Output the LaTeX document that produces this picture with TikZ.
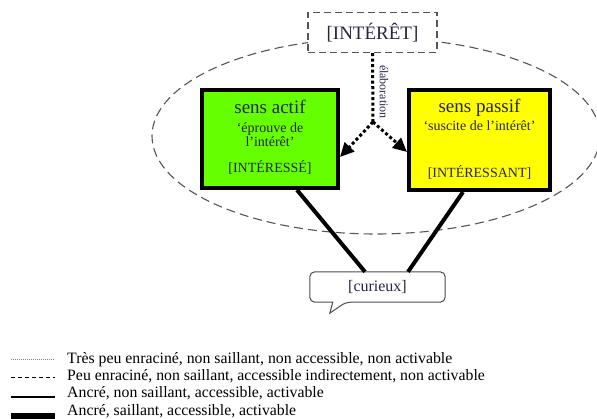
\documentclass[tikz,border=0pt]{standalone}
\usepackage{fontspec}
\setmainfont{Liberation Serif}
\usetikzlibrary{arrows.meta,calc}
\definecolor{vert}{RGB}{102,255,0}
\definecolor{jaune}{RGB}{255,255,0}
\definecolor{txt}{RGB}{38,38,70}
\definecolor{ellc}{RGB}{85,85,85}
\newcommand{\fsz}[1]{\fontsize{#1}{#1}\selectfont}
\begin{document}
\begin{tikzpicture}[x=1pt,y=-1pt,
  sensbox/.style={draw=black, line width=4pt, inner sep=0pt},
  lbl/.style={anchor=base, inner sep=0pt, text=txt},
  dotline/.style={line width=3pt, dash pattern=on 3pt off 2.5pt},
  dotarrow/.style={dotline, -{Triangle[length=14pt,width=13pt]}},
  link/.style={line width=4pt, black},
  legtext/.style={anchor=base west, inner sep=0pt, font=\fsz{15.8}}
]
\useasboundingbox (0,0) rectangle (597,419);

% ellipse
\draw[ellc, line width=1.1pt, dash pattern=on 9pt off 5pt] (376,136) ellipse [x radius=224, y radius=98];

% top box
\node[draw=ellc, fill=white, line width=1.3pt, dash pattern=on 7pt off 4pt,
      minimum width=129pt, minimum height=40pt, inner sep=0pt,
      text=txt, font=\fsz{19}] (interet) at (372.5,32.5) {[INTÉRÊT]};

% sense boxes
\node[sensbox, fill=vert, minimum width=136pt, minimum height=98pt] (actif) at (270,139) {};
\node[sensbox, fill=jaune, minimum width=141pt, minimum height=100pt] (passif) at (479.5,140) {};

\node[lbl, font=\fsz{19}] (a1) at (270,114) {sens actif};
\node[lbl, font=\fsz{14}] (a2) at (270,133) {‘éprouve de};
\node[lbl, font=\fsz{14}] (a3) at (270,147) {l’intérêt’};
\node[lbl, font=\fsz{14}] (a4) at (270,173) {[INTÉRESSÉ]};

\node[lbl, font=\fsz{19}] (p1) at (479.5,113) {sens passif};
\node[lbl, font=\fsz{14}] (p2) at (479.5,131) {‘suscite de l’intérêt’};
\node[lbl, font=\fsz{14}] (p3) at (479.5,178) {[INTÉRESSANT]};

% elaboration arrows
\coordinate (j) at (373,122);
\draw[dotline] (interet.south) -- (j);
\draw[dotarrow] (j) -- ([yshift=-18pt]actif.east);
\draw[dotarrow] (j) -- ([yshift=-12pt]passif.west);
\node[lbl, anchor=center, rotate=-90, font=\fsz{12}] (elab) at (384,92) {élaboration};

% curieux callout
\node[minimum width=135pt, minimum height=30pt, inner sep=0pt, text=txt, font=\fsz{16}] (curieux) at (377.5,287) {[curieux]};
\draw[gray!60!black, line width=1pt, fill=white]
  ($(curieux.south west)+(20,11)$) -- ($(curieux.south west)+(23,0)$)
  [rounded corners=5pt] -- (curieux.south west) -- (curieux.north west)
  -- (curieux.north east) -- (curieux.south east)
  -- ($(curieux.south west)+(36,0)$) [sharp corners] -- cycle;
\node[text=txt, font=\fsz{16}, inner sep=0pt] at (curieux.center) {[curieux]};

\draw[link] ([xshift=27pt]actif.south) -- ([xshift=-12.5pt]curieux.north);
\draw[link] ([xshift=-16.5pt]passif.south) -- ([xshift=30.5pt]curieux.north);

% legend
\draw[gray, line width=0.6pt, dash pattern=on 1pt off 1pt] (11,359) -- (55,359);
\draw[black, line width=1.2pt, dash pattern=on 4pt off 3pt] (11,377.5) -- (55,377.5);
\draw[black, line width=1.2pt] (11,397) -- (55,397);
\draw[black, line width=6pt] (11,416) -- (55,416);
\node[legtext] (l1) at (67,364) {Très peu enraciné, non saillant, non accessible, non activable};
\node[legtext] (l2) at (67,381) {Peu enraciné, non saillant, accessible indirectement, non activable};
\node[legtext] (l3) at (67,398) {Ancré, non saillant, accessible, activable};
\node[legtext] (l4) at (67,415) {Ancré, saillant, accessible, activable};
\end{tikzpicture}
\end{document}
